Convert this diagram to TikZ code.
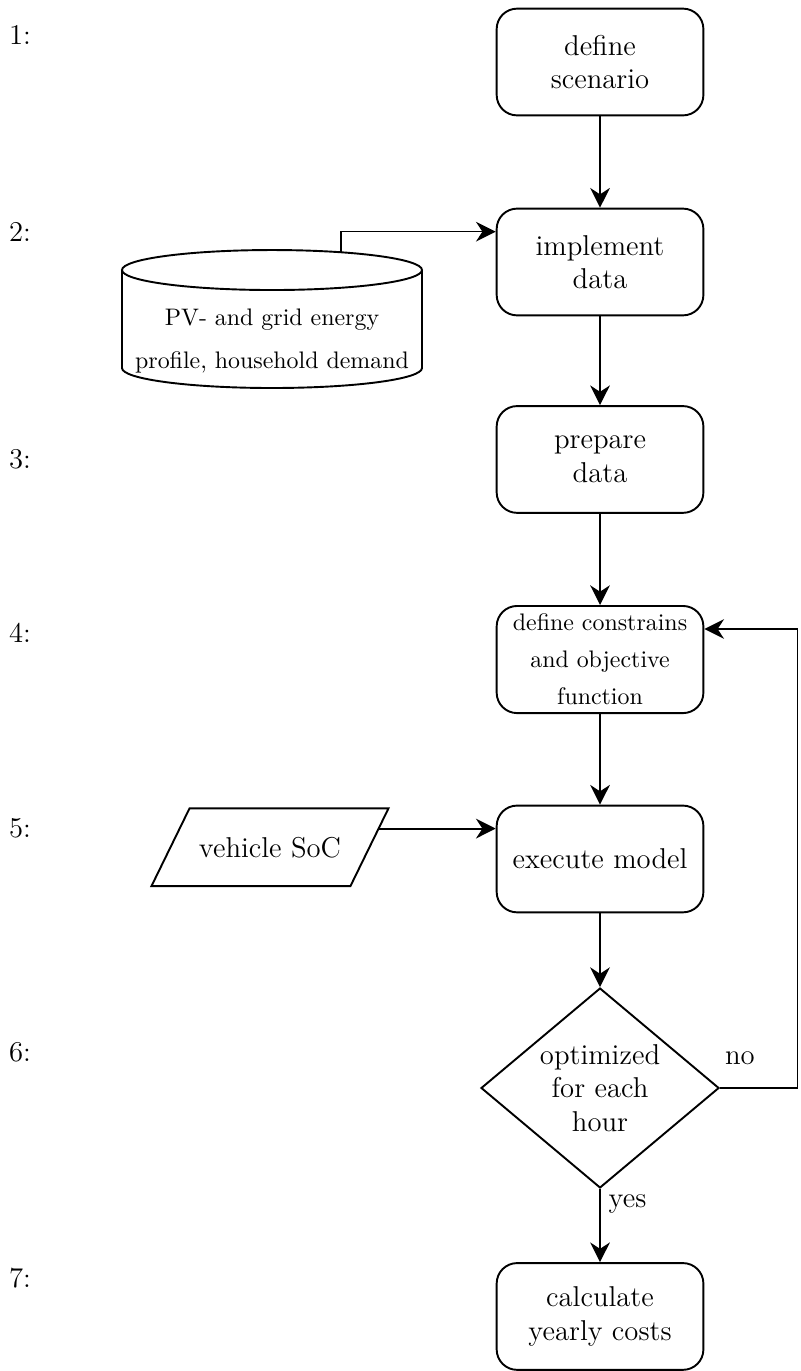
\documentclass[tikz,border=0pt]{standalone}
\usepackage{tikz}
\usetikzlibrary{arrows.meta, positioning, shapes.geometric, calc}

\begin{document}
\begin{tikzpicture}[
    process/.style={draw, thick, rounded corners=0.3cm, minimum width=3.04cm, minimum height=1.57cm, align=center, font=\large},
    decision/.style={draw, thick, diamond, aspect=1.19, minimum width=3.5cm, minimum height=2.94cm, inner sep=0pt, align=center, font=\large},
    flow/.style={-{Stealth[length=2.9mm, width=2.9mm]}, semithick},
    steplabel/.style={anchor=west, font=\large}
]
    \useasboundingbox (0,0) rectangle (11.765,-20.162);

    % step numbers
    \foreach \n/\y in {1/-0.515, 2/-3.41, 3/-6.75, 4/-9.31, 5/-12.18, 6/-15.47, 7/-18.79}
        \node[steplabel] (lab\n) at (0.01,\y) {\n:};

    % main chain
    \node[process] (scen) at (8.824,-0.912) {define\\scenario};
    \node[process] (impl) at (8.824,-3.853) {implement\\data};
    \node[process] (prep) at (8.824,-6.757) {prepare\\data};
    \node[process, font=\normalsize] (cons) at (8.824,-9.699) {define constrains\\[3.5pt]and objective\\[3.5pt]function};
    \node[process] (exec) at (8.824,-12.632) {execute model};
    \node[decision] (opt) at (8.824,-16.0) {optimized\\for each\\hour};
    \node[process] (cost) at (8.824,-19.36) {calculate\\yearly costs};

    % data storage
    \draw[thick] (1.794,-3.971) -- (1.794,-5.412)
        arc[start angle=180, end angle=360, x radius=2.206, y radius=0.294] -- (6.206,-3.971);
    \draw[thick] (4.0,-3.971) ellipse[x radius=2.206, y radius=0.294];
    \node[align=center] (data) at (4.0,-5.02) {PV- and grid energy\\[6pt]profile, household demand};
    \coordinate (datatop) at (5.015,-3.706);

    % input
    \node[minimum width=2.912cm, minimum height=1.13cm, inner sep=0pt, font=\large] (soc) at (3.97,-12.46) {vehicle SoC};
    \draw[thick] ($(soc.south west)+(-0.28,0)$) -- ($(soc.north west)+(0.28,0)$)
        -- ($(soc.north east)+(0.28,0)$) -- ($(soc.south east)+(-0.28,0)$) -- cycle;
    \coordinate (socout) at ($($(soc.north east)+(0.28,0)$)!0.26!($(soc.south east)+(-0.28,0)$)$);

    % entry points
    \coordinate (in2) at ($(impl.north west)+(0,-0.353)$);
    \coordinate (back) at ($(cons.north east)+(0,-0.353)$);

    % connectors
    \draw[flow] (scen) -- (impl);
    \draw[flow] (impl) -- (prep);
    \draw[flow] (prep) -- (cons);
    \draw[flow] (cons) -- (exec);
    \draw[flow, thick] (exec) -- (opt);
    \draw[flow] (datatop) |- (in2);
    \draw[flow, thick] (socout) -- (socout -| exec.west);
    \draw[flow] (opt.east) -| ($(back)+(1.37,0)$) -- (back);
    \draw[flow] (opt.south) -- node[right, pos=0.2, font=\large] (yes) {yes} (cost.north);
    \node[font=\large] (no) at (10.88,-15.56) {no};
\end{tikzpicture}
\end{document}
